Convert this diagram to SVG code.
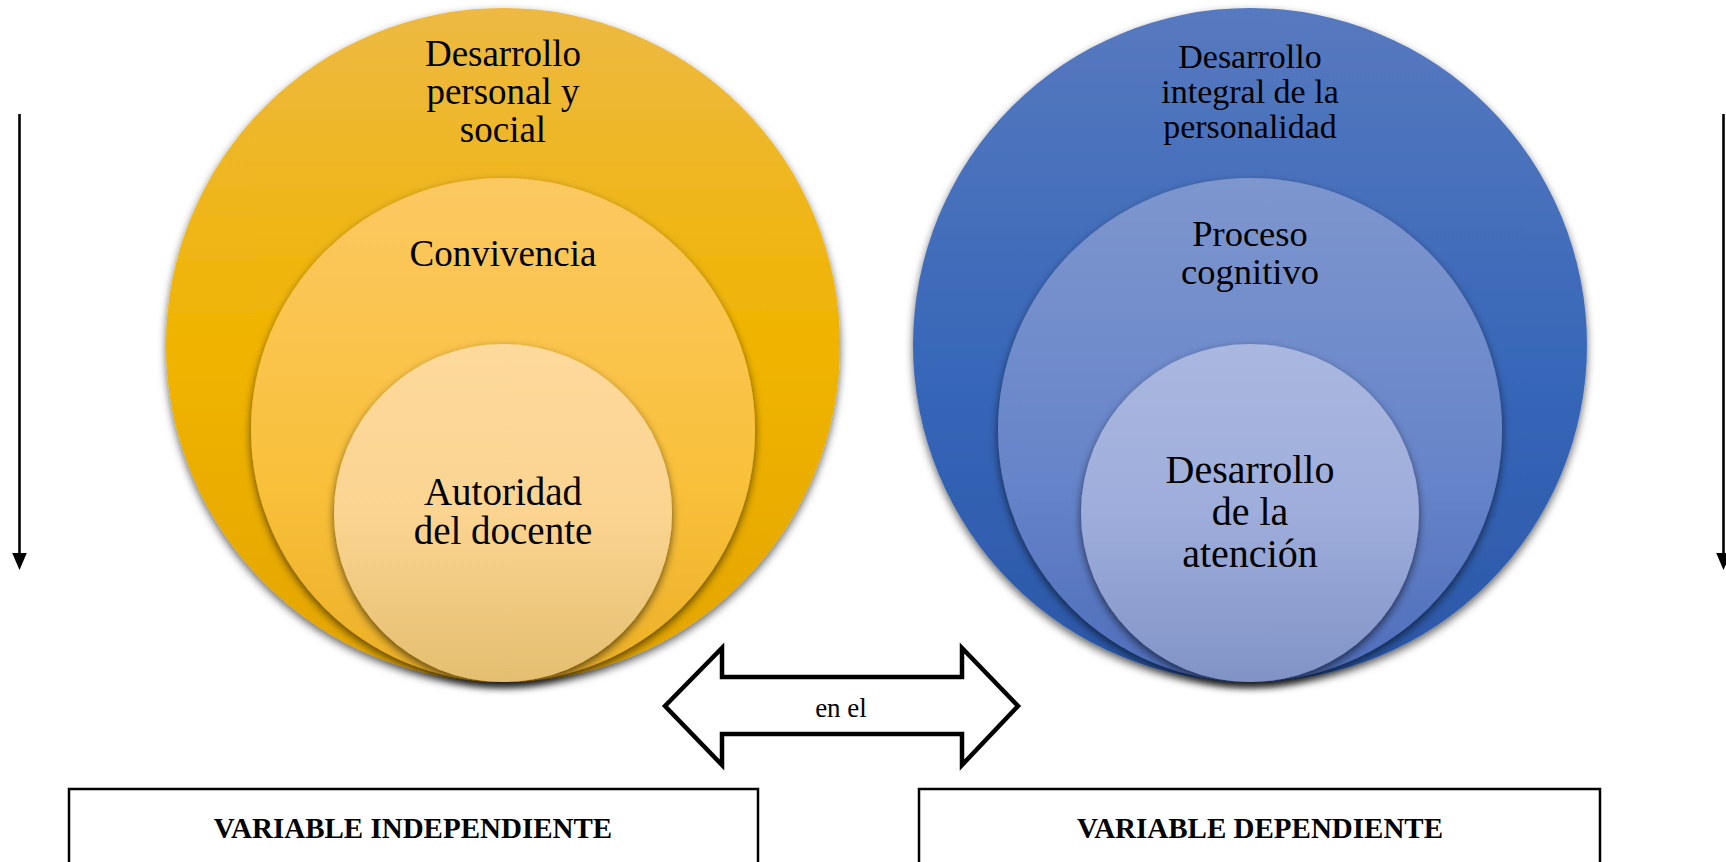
<svg xmlns="http://www.w3.org/2000/svg" width="1726" height="862" viewBox="0 0 1726 862">
<style>
.t{font-family:"Liberation Serif","Times New Roman",serif;fill:#000;text-anchor:middle}
.b{font-weight:bold}
.box{fill:#fff;stroke:#000;stroke-width:2.5}
.ln{stroke:#000;stroke-width:2.6;fill:none}
</style>
<defs>
<linearGradient id="yO" x1="0" y1="0" x2="0" y2="1"><stop offset="0" stop-color="#EDB943"/><stop offset="0.5" stop-color="#F0B400"/><stop offset="1" stop-color="#E4A500"/></linearGradient>
<linearGradient id="yM" x1="0" y1="0" x2="0" y2="1"><stop offset="0" stop-color="#FCC862"/><stop offset="0.6" stop-color="#F9C03A"/><stop offset="1" stop-color="#ECB028"/></linearGradient>
<linearGradient id="yI" x1="0" y1="0" x2="0" y2="1"><stop offset="0" stop-color="#FDD99C"/><stop offset="0.5" stop-color="#FBD491"/><stop offset="1" stop-color="#E4BE70"/></linearGradient>
<linearGradient id="bO" x1="0" y1="0" x2="0" y2="1"><stop offset="0" stop-color="#5779BF"/><stop offset="0.55" stop-color="#3766B8"/><stop offset="1" stop-color="#2B57A7"/></linearGradient>
<linearGradient id="bM" x1="0" y1="0" x2="0" y2="1"><stop offset="0" stop-color="#7E96CE"/><stop offset="0.6" stop-color="#6684C9"/><stop offset="1" stop-color="#4E6DBA"/></linearGradient>
<linearGradient id="bI" x1="0" y1="0" x2="0" y2="1"><stop offset="0" stop-color="#AAB7DF"/><stop offset="0.5" stop-color="#9EADDB"/><stop offset="1" stop-color="#8193C6"/></linearGradient>
<filter id="sh" x="-10%" y="-10%" width="120%" height="125%"><feDropShadow dx="0" dy="4" stdDeviation="4" flood-color="#000" flood-opacity="0.6"/></filter>
</defs>

<g id="yellow-outer"><circle cx="503" cy="345" r="337" fill="url(#yO)" filter="url(#sh)"/>
<text class="t" font-size="37"><tspan x="503" y="66">Desarrollo</tspan><tspan x="503" y="104">personal y</tspan><tspan x="503" y="142">social</tspan></text></g>
<g id="yellow-middle"><circle cx="503" cy="430" r="252" fill="url(#yM)" filter="url(#sh)"/>
<text class="t" font-size="37" x="503" y="266">Convivencia</text></g>
<g id="yellow-inner"><circle cx="503" cy="513" r="169" fill="url(#yI)" filter="url(#sh)"/>
<text class="t" font-size="39"><tspan x="503" y="505">Autoridad</tspan><tspan x="503" y="544">del docente</tspan></text></g>

<g id="blue-outer"><circle cx="1250" cy="345" r="337" fill="url(#bO)" filter="url(#sh)"/>
<text class="t" font-size="34"><tspan x="1250" y="68">Desarrollo</tspan><tspan x="1250" y="103">integral de la</tspan><tspan x="1250" y="138">personalidad</tspan></text></g>
<g id="blue-middle"><circle cx="1250" cy="430" r="252" fill="url(#bM)" filter="url(#sh)"/>
<text class="t" font-size="36.5"><tspan x="1250" y="246">Proceso</tspan><tspan x="1250" y="284">cognitivo</tspan></text></g>
<g id="blue-inner"><circle cx="1250" cy="513" r="169" fill="url(#bI)" filter="url(#sh)"/>
<text class="t" font-size="40"><tspan x="1250" y="483">Desarrollo</tspan><tspan x="1250" y="525">de la</tspan><tspan x="1250" y="567">atención</tspan></text></g>

<g id="box-independiente"><rect class="box" x="69" y="789" width="689" height="100"/>
<text class="t b" font-size="29" x="413" y="838">VARIABLE INDEPENDIENTE</text></g>
<g id="box-dependiente"><rect class="box" x="919" y="789" width="681" height="100"/>
<text class="t b" font-size="29" x="1260" y="838">VARIABLE DEPENDIENTE</text></g>

<g id="connectors">
<g id="double-arrow"><polygon points="665,706 722,648 722,677 962,677 962,648 1018,706 962,765 962,734 722,734 722,765" fill="#fff" stroke="#000" stroke-width="4.5" stroke-linejoin="miter"/>
<text class="t" font-size="27" x="841" y="717">en el</text></g>
<line class="ln" x1="19.5" y1="114" x2="19.5" y2="556"/>
<polygon points="12.2,553 26.8,553 19.5,570" fill="#000"/>
<line class="ln" x1="1723.5" y1="114" x2="1723.5" y2="556"/>
<polygon points="1716.2,553 1730.8,553 1723.5,570" fill="#000"/>
</g>
</svg>
